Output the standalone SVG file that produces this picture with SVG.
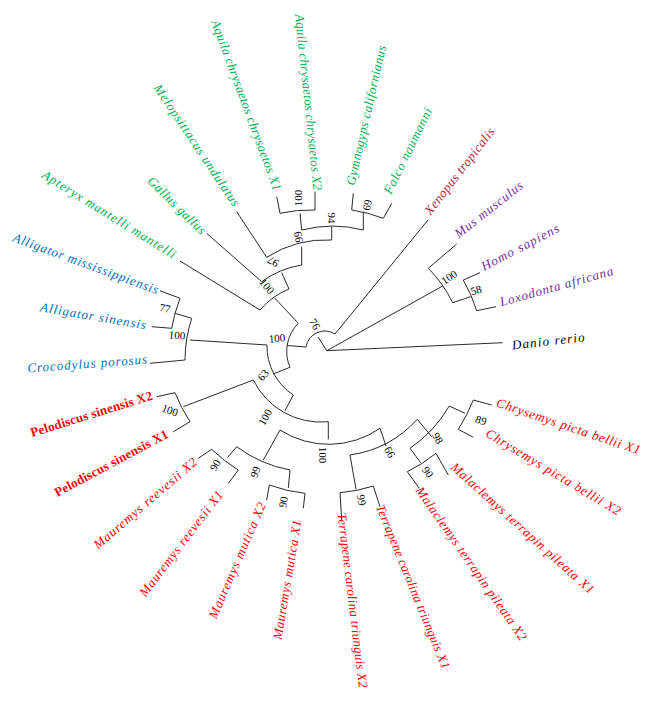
<svg xmlns="http://www.w3.org/2000/svg" width="662" height="708" viewBox="0 0 662 708">
<style>
.br{fill:none;stroke:#2a2a2a;stroke-width:1}
.bs{font-family:"Liberation Serif",serif;font-size:11px;fill:#000;text-anchor:middle;dominant-baseline:central}
.sp{font-family:"Liberation Serif",serif;font-size:13px;font-style:italic;dominant-baseline:central}
.e{text-anchor:end}
.s{text-anchor:start}
.g{fill:#00b050}.b{fill:#0070c0}.r{fill:#ff0000}.p{fill:#7030a0}.x{fill:#b0243a}.k{fill:#000}
.bold{font-weight:bold;font-style:normal}
</style>
<rect width="662" height="708" fill="#fff"/>
<g id="connectors" class="br">
<path d="M326.7,350.7L318.3,337.3M306,347A19,19 0 0 1 335,334L428,220M326.7,350.7L442.7,286M326.7,350.7L502.7,342.7"/>
<path d="M306,347L287,345.5M290,367.3A40,40 0 0 1 298.3,323.3L275,298.3"/>
<path d="M260,310A75,75 0 0 1 289,289L281.7,272.7M180,261L260,310"/>
<path d="M261.7,281.7A92,92 0 0 1 301.7,265L301.7,246.7M206.7,233.3L261.7,281.7"/>
<path d="M266.7,257.3A110,110 0 0 1 331.7,240L331.7,226.7M236.7,211.7L266.7,257.3"/>
<path d="M301.7,230A124,124 0 0 1 363.3,230M301.7,230L300,213.3M363.3,230L363.3,211.7"/>
<path d="M276.7,196.7L280,213.3A143,143 0 0 1 315,210L315,191.7"/>
<path d="M353.3,193.3L351.7,210A143,143 0 0 1 383.3,218.3L391.7,203.3"/>
<path d="M290,367.3L273,374M293.3,395A58,58 0 0 1 267,345L190,340"/>
<path d="M150,363.3L185,360A140,140 0 0 1 191.7,318.3L175,313.3"/>
<path d="M151.7,326.7L171.7,328.3A156,156 0 0 1 180,298.3L160,290.7"/>
<path d="M293.3,395L285,410.7M328.3,421.7A75,75 0 0 1 253.3,380L183.3,406.7"/>
<path d="M173.3,431.7L190,421.7A155,155 0 0 1 175,392.7L156.7,396.7"/>
<path d="M328.3,421.7L328.3,439.3M380,428.3A90,90 0 0 1 280,430L263.3,460"/>
<path d="M290,470A128,128 0 0 1 236.7,446.7L227.5,457.5"/>
<path d="M228.3,483.3L238.3,470A150,150 0 0 1 211.7,449.3L198.3,458.3"/>
<path d="M290,470L288.3,488"/>
<path d="M303.3,508.3L305,493.3A145,145 0 0 1 269.3,485L266.7,500"/>
<path d="M380,428.3L386,446M417.3,419.3A112,112 0 0 1 350,455L356,489.3"/>
<path d="M380,506.7L373.3,486A142,142 0 0 1 340,492.7L341.7,520"/>
<path d="M417.3,419.3L431.7,436.7M449.3,406A131,131 0 0 1 410,448.3L420.7,462.7"/>
<path d="M448.3,475L436,453.3A147,147 0 0 1 407.3,471.7L419.3,488.3"/>
<path d="M449.3,406L465,413.3M491.7,405L473.3,400A153,153 0 0 1 458.3,429.3L473.3,437.3"/>
<path d="M456.7,244L428.3,268.3A132,132 0 0 1 452.7,302.7L470.7,296.7"/>
<path d="M480,272.7L463.3,280A154,154 0 0 1 476.7,310.7L496,306.7"/>
</g>
<g id="bootstrap">
<text class="bs" transform="translate(315,324) rotate(60)">76</text>
<text class="bs" transform="translate(277,338) rotate(-5)">100</text>
<text class="bs" transform="translate(263,375) rotate(-50)">63</text>
<text class="bs" transform="translate(265,417) rotate(-60)">100</text>
<text class="bs" transform="translate(323,455) rotate(90)">100</text>
<text class="bs" transform="translate(215,465) rotate(-60)">90</text>
<text class="bs" transform="translate(255,472) rotate(-70)">99</text>
<text class="bs" transform="translate(283,502) rotate(-80)">90</text>
<text class="bs" transform="translate(390,452) rotate(60)">66</text>
<text class="bs" transform="translate(362,500) rotate(80)">99</text>
<text class="bs" transform="translate(438,438) rotate(60)">98</text>
<text class="bs" transform="translate(428,472) rotate(55)">90</text>
<text class="bs" transform="translate(481,420) rotate(20)">89</text>
<text class="bs" transform="translate(170,410) rotate(20)">100</text>
<text class="bs" transform="translate(177,335) rotate(5)">100</text>
<text class="bs" transform="translate(165,308) rotate(10)">77</text>
<text class="bs" transform="translate(267,286) rotate(50)">100</text>
<text class="bs" transform="translate(273,262) rotate(-150)">97</text>
<text class="bs" transform="translate(298,237) rotate(-100)">99</text>
<text class="bs" transform="translate(332,218) rotate(90)">94</text>
<text class="bs" transform="translate(298,198) rotate(-90)">100</text>
<text class="bs" transform="translate(367,205) rotate(-80)">69</text>
<text class="bs" transform="translate(449,277) rotate(-35)">100</text>
<text class="bs" transform="translate(476,290) rotate(-15)">58</text>
</g>
<g id="crocs">
<text class="sp e b" transform="translate(158,290) rotate(20.2)" textLength="154" lengthAdjust="spacing">Alligator mississippiensis</text>
<text class="sp e b" transform="translate(146,325) rotate(9.8)" textLength="107" lengthAdjust="spacing">Alligator sinensis</text>
<text class="sp e b" transform="translate(147,359) rotate(-4.3)" textLength="120" lengthAdjust="spacing">Crocodylus porosus</text>
</g>
<g id="pelodiscus">
<text class="sp e r bold" transform="translate(152,395) rotate(-17.3)" textLength="127" lengthAdjust="spacing">Pelodiscus sinensis X2</text>
<text class="sp e r bold" transform="translate(167,433) rotate(-28.2)" textLength="127" lengthAdjust="spacing">Pelodiscus sinensis X1</text>
</g>
<g id="mauremys">
<text class="sp e r" transform="translate(195,460) rotate(-40.9)" textLength="132" lengthAdjust="spacing">Mauremys reevesii X2</text>
<text class="sp e r" transform="translate(220,492) rotate(-52.8)" textLength="129" lengthAdjust="spacing">Mauremys reevesii X1</text>
<text class="sp e r" transform="translate(262,503) rotate(-66.5)" textLength="125" lengthAdjust="spacing">Mauremys mutica X2</text>
<text class="sp e r" transform="translate(297,520) rotate(-80.5)" textLength="121" lengthAdjust="spacing">Mauremys mutica X1</text>
</g>
<g id="emydids">
<text class="sp s r" transform="translate(342,513) rotate(83)" textLength="176" lengthAdjust="spacing">Terrapene carolina triunguis X2</text>
<text class="sp s r" transform="translate(380,505) rotate(67.8)" textLength="176" lengthAdjust="spacing">Terrapene carolina triunguis X1</text>
<text class="sp s r" transform="translate(419,488) rotate(55.1)" textLength="184" lengthAdjust="spacing">Malaclemys terrapin pileata X2</text>
<text class="sp s r" transform="translate(453,465) rotate(42.1)" textLength="188" lengthAdjust="spacing">Malaclemys terrapin pileata X1</text>
<text class="sp s r" transform="translate(487,432) rotate(31)" textLength="155" lengthAdjust="spacing">Chrysemys picta bellii X2</text>
<text class="sp s r" transform="translate(497,402) rotate(18.6)" textLength="151" lengthAdjust="spacing">Chrysemys picta bellii X1</text>
</g>
<g id="birds">
<text class="sp e g" transform="translate(175,255) rotate(31.8)" textLength="155" lengthAdjust="spacing">Apteryx mantelli mantelli</text>
<text class="sp e g" transform="translate(204,232) rotate(44.7)" textLength="76" lengthAdjust="spacing">Gallus gallus</text>
<text class="sp e g" transform="translate(237,205) rotate(56.3)" textLength="144" lengthAdjust="spacing">Melopsittacus undulatus</text>
<text class="sp e g" transform="translate(278,190) rotate(69.7)" textLength="181" lengthAdjust="spacing">Aquila chrysaetos chrysaetos X1</text>
<text class="sp e g" transform="translate(318,190) rotate(84)" textLength="177" lengthAdjust="spacing">Aquila chrysaetos chrysaetos X2</text>
<text class="sp s g" transform="translate(350,185) rotate(-77.2)" textLength="143" lengthAdjust="spacing">Gymnogyps californianus</text>
<text class="sp s g" transform="translate(387,193) rotate(-63.9)" textLength="94" lengthAdjust="spacing">Falco naumanni</text>
</g>
<g id="xenopus">
<text class="sp s x" transform="translate(427,213) rotate(-52.4)" textLength="106" lengthAdjust="spacing">Xenopus tropicalis</text>
</g>
<g id="mammals">
<text class="sp s p" transform="translate(456,235) rotate(-38.2)" textLength="83" lengthAdjust="spacing">Mus musculus</text>
<text class="sp s p" transform="translate(482,267) rotate(-27.6)" textLength="86" lengthAdjust="spacing">Homo sapiens</text>
<text class="sp s p" transform="translate(500,302) rotate(-15.6)" textLength="117" lengthAdjust="spacing">Loxodonta africana</text>
</g>
<g id="danio">
<text class="sp s k" transform="translate(512,345) rotate(-6.5)" textLength="73" lengthAdjust="spacing">Danio rerio</text>
</g>
</svg>
